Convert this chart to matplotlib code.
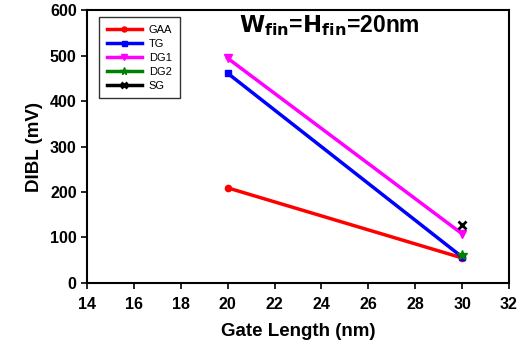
import matplotlib
matplotlib.use("Agg")
import matplotlib.pyplot as plt

gate_length = [20, 30]
gaa = [209, 55]
tg = [461, 57]
dg1 = [494, 108]
dg2_x = [30]
dg2 = [61]
sg_x = [30]
sg = [127]

plt.rcParams["font.family"] = ["Liberation Sans", "DejaVu Sans"]

fig = plt.figure(figsize=(5.28, 3.48), dpi=100)
ax = fig.add_axes([0.165, 0.187, 0.799, 0.784])

ax.plot(gate_length, gaa, color="#ff0000", lw=2.5, marker="o", ms=4.5, label="GAA")
ax.plot(gate_length, tg, color="#0000ff", lw=2.5, marker="s", ms=4.5, label="TG")
ax.plot(gate_length, dg1, color="#ff00ff", lw=2.5, marker="v", ms=5.5, label="DG1")
ax.plot(dg2_x, dg2, color="#008000", lw=2.5, marker="*", ms=7, label="DG2")
ax.plot(sg_x, sg, color="black", lw=2.5, marker="x", ms=5.5, mew=2, label="SG")

ax.set_xlim(14, 32)
ax.set_ylim(0, 600)
ax.set_xticks(range(14, 33, 2))
ax.set_yticks(range(0, 601, 100))
ax.tick_params(direction="out", length=4, width=1.2, labelsize=11.5)
ax.tick_params(axis="x", pad=6)
for lbl in ax.get_xticklabels() + ax.get_yticklabels():
    lbl.set_fontweight("bold")
for sp in ax.spines.values():
    sp.set_linewidth(1.5)

ax.set_xlabel("Gate Length (nm)", fontsize=13.5, fontweight="bold", labelpad=8)
ax.set_ylabel("DIBL (mV)", fontsize=13.5, fontweight="bold", labelpad=5)

ax.text(0.36, 0.945, r"$\mathbf{W_{fin}}$=$\mathbf{H_{fin}}$=20nm", transform=ax.transAxes,
        fontsize=16.5, fontweight="bold", va="center", ha="left")

leg = ax.legend(loc="upper left", bbox_to_anchor=(0.028, 0.974), borderaxespad=0,
                fontsize=8, frameon=True, fancybox=False, edgecolor="black",
                markerscale=0.8, handlelength=3.2, handletextpad=0.6,
                labelspacing=0.35, borderpad=0.7)
leg.get_frame().set_linewidth(1.0)

fig.savefig("out.png", dpi=100)
